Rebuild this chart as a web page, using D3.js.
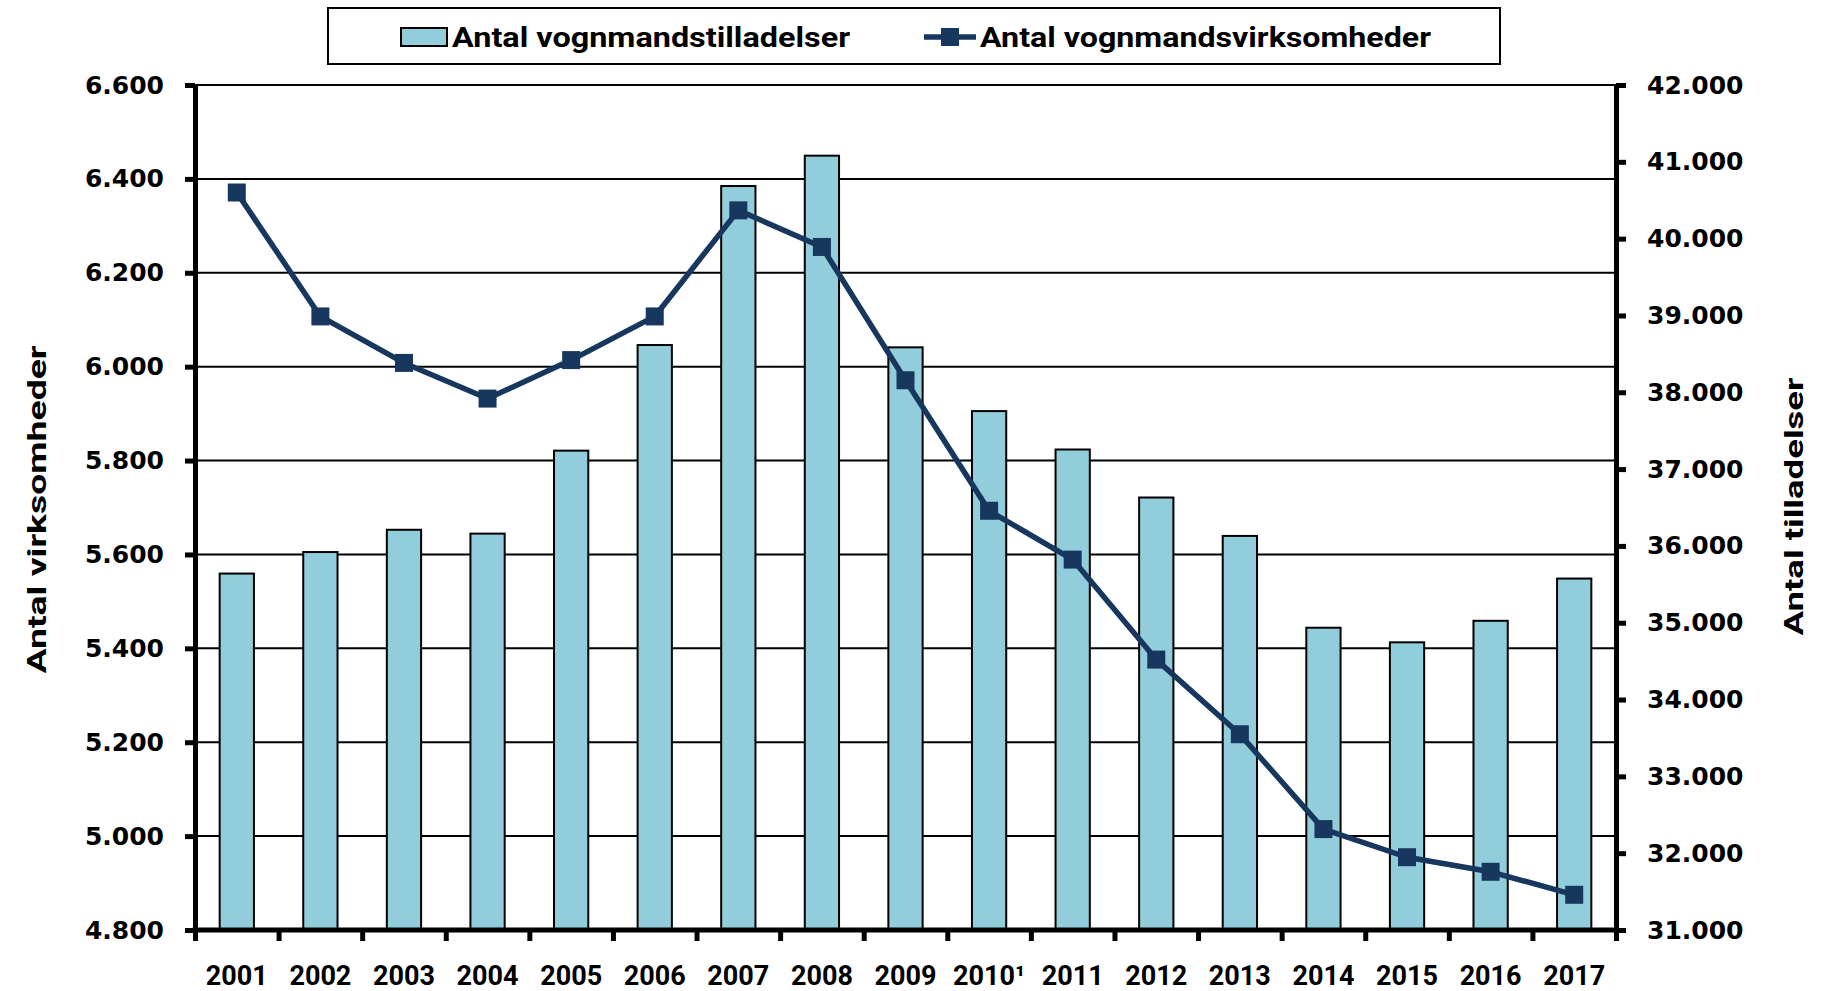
<!DOCTYPE html>
<html>
<head>
<meta charset="utf-8">
<script src="https://cdn.jsdelivr.net/npm/d3@7"></script>
<style>
  html, body { margin: 0; padding: 0; background: #fff; }
  svg { display: block; }
</style>
</head>
<body>
<svg id="chart" width="1823" height="991"></svg>
<script>
// ---- data ----
const years = ["2001","2002","2003","2004","2005","2006","2007","2008","2009","2010¹","2011","2012","2013","2014","2015","2016","2017"];
const tilladelser = [35640, 35920, 36210, 36160, 37240, 38615, 40685, 41080, 38585, 37755, 37255, 36630, 36130, 34935, 34745, 35025, 35575];
const virksomheder = [6371, 6107, 6008, 5932, 6014, 6107, 6333, 6255, 5971, 5693, 5589, 5376, 5217, 5015, 4955, 4924, 4875];
const leftTicks = [4800, 5000, 5200, 5400, 5600, 5800, 6000, 6200, 6400, 6600];
const rightTicks = [31000, 32000, 33000, 34000, 35000, 36000, 37000, 38000, 39000, 40000, 41000, 42000];
const seriesNames = ["Antal vognmandstilladelser", "Antal vognmandsvirksomheder"];
const axisTitles = ["Antal virksomheder", "Antal tilladelser"];

// ---- layout ----
const L = 195, R = 1616, T = 85, B = 930;
const barColor = "#92CDDC", lineColor = "#17375E";
const labelFont = "Roboto, 'Liberation Sans', sans-serif";
const tickFont = "'DejaVu Sans', Verdana, sans-serif";

const svg = d3.select("#chart");
const loc = d3.formatLocale({decimal: ",", thousands: ".", grouping: [3], currency: ["", ""]});
const fmt = loc.format(",");

const x = d3.scaleBand().domain(years).range([L, R]).padding(0);
const xIdx = d3.scaleLinear().domain([0, years.length]).range([L, R]);
const yL = d3.scaleLinear().domain([4800, 6600]).range([B, T]);
const yR = d3.scaleLinear().domain([31000, 42000]).range([B, T]);

// gridlines
svg.append("g").selectAll("line").data(leftTicks.slice(1)).join("line")
  .attr("x1", L).attr("x2", R)
  .attr("y1", d => yL(d)).attr("y2", d => yL(d))
  .attr("stroke", "#000").attr("stroke-width", 2);

// bars
const bw = x.bandwidth() * 0.41;
svg.append("g").selectAll("rect").data(tilladelser).join("rect")
  .attr("x", (d, i) => x(years[i]) + x.bandwidth() / 2 - bw / 2)
  .attr("width", bw)
  .attr("y", d => yR(d))
  .attr("height", d => B - yR(d))
  .attr("fill", barColor).attr("stroke", "#000").attr("stroke-width", 2);

// line
const line = d3.line()
  .x((d, i) => x(years[i]) + x.bandwidth() / 2)
  .y(d => yL(d));
svg.append("path").datum(virksomheder)
  .attr("d", line).attr("fill", "none")
  .attr("stroke", lineColor).attr("stroke-width", 5.5).attr("stroke-linejoin", "round");
const ms = 18;
svg.append("g").selectAll("rect").data(virksomheder).join("rect")
  .attr("x", (d, i) => x(years[i]) + x.bandwidth() / 2 - ms / 2)
  .attr("y", d => yL(d) - ms / 2)
  .attr("width", ms).attr("height", ms)
  .attr("fill", lineColor);

// axes
function styleAxis(g) {
  g.select(".domain").attr("stroke", "#000").attr("stroke-width", 5);
  g.selectAll(".tick line").attr("stroke", "#000").attr("stroke-width", 5);
}
const gL = svg.append("g").attr("transform", `translate(${L},0)`)
  .call(d3.axisLeft(yL).tickValues(leftTicks).tickFormat(fmt).tickSize(10).tickSizeOuter(0).tickPadding(21));
styleAxis(gL);
gL.selectAll("text").attr("font-family", tickFont).attr("font-weight", "bold").attr("font-size", 25).attr("fill", "#000");

const gR = svg.append("g").attr("transform", `translate(${R},0)`)
  .call(d3.axisRight(yR).tickValues(rightTicks).tickFormat(fmt).tickSize(10).tickSizeOuter(0).tickPadding(21));
styleAxis(gR);
gR.selectAll("text").attr("font-family", tickFont).attr("font-weight", "bold").attr("font-size", 25).attr("fill", "#000");

const gB = svg.append("g").attr("transform", `translate(0,${B})`)
  .call(d3.axisBottom(xIdx).tickValues(d3.range(0, years.length + 1)).tickFormat("").tickSize(11).tickSizeOuter(0));
styleAxis(gB);
gB.select(".domain").attr("d", `M${L - 2.5},0H${R + 2.5}`);

const gBL = svg.append("g").attr("transform", `translate(0,${B})`)
  .call(d3.axisBottom(x).tickSize(0).tickPadding(36));
gBL.select(".domain").remove();
gBL.selectAll("text").attr("font-family", labelFont).attr("font-weight", "bold").attr("font-size", 27).attr("fill", "#000");

// axis titles
svg.append("text")
  .attr("transform", `translate(46,${(T + B) / 2 + 2}) rotate(-90)`)
  .attr("text-anchor", "middle")
  .attr("font-family", labelFont).attr("font-weight", "bold").attr("font-size", 26)
  .attr("textLength", 328).attr("lengthAdjust", "spacingAndGlyphs")
  .text(axisTitles[0]);
svg.append("text")
  .attr("transform", `translate(1803,${(T + B) / 2 - 1}) rotate(-90)`)
  .attr("text-anchor", "middle")
  .attr("font-family", labelFont).attr("font-weight", "bold").attr("font-size", 26)
  .attr("textLength", 258).attr("lengthAdjust", "spacingAndGlyphs")
  .text(axisTitles[1]);

// legend
const lg = svg.append("g");
lg.append("rect").attr("x", 328).attr("y", 8).attr("width", 1172).attr("height", 56)
  .attr("fill", "#fff").attr("stroke", "#000").attr("stroke-width", 2);
lg.append("rect").attr("x", 401).attr("y", 28).attr("width", 46).attr("height", 18)
  .attr("fill", barColor).attr("stroke", "#000").attr("stroke-width", 2);
lg.append("text").attr("x", 452).attr("y", 46.5)
  .attr("font-family", labelFont).attr("font-weight", "bold").attr("font-size", 27)
  .attr("textLength", 398).attr("lengthAdjust", "spacingAndGlyphs")
  .text(seriesNames[0]);
lg.append("line").attr("x1", 924).attr("x2", 976).attr("y1", 37).attr("y2", 37)
  .attr("stroke", lineColor).attr("stroke-width", 5.5);
lg.append("rect").attr("x", 950 - ms / 2).attr("y", 37 - ms / 2).attr("width", ms).attr("height", ms)
  .attr("fill", lineColor);
lg.append("text").attr("x", 980).attr("y", 46.5)
  .attr("font-family", labelFont).attr("font-weight", "bold").attr("font-size", 27)
  .attr("textLength", 451).attr("lengthAdjust", "spacingAndGlyphs")
  .text(seriesNames[1]);
</script>
</body>
</html>
